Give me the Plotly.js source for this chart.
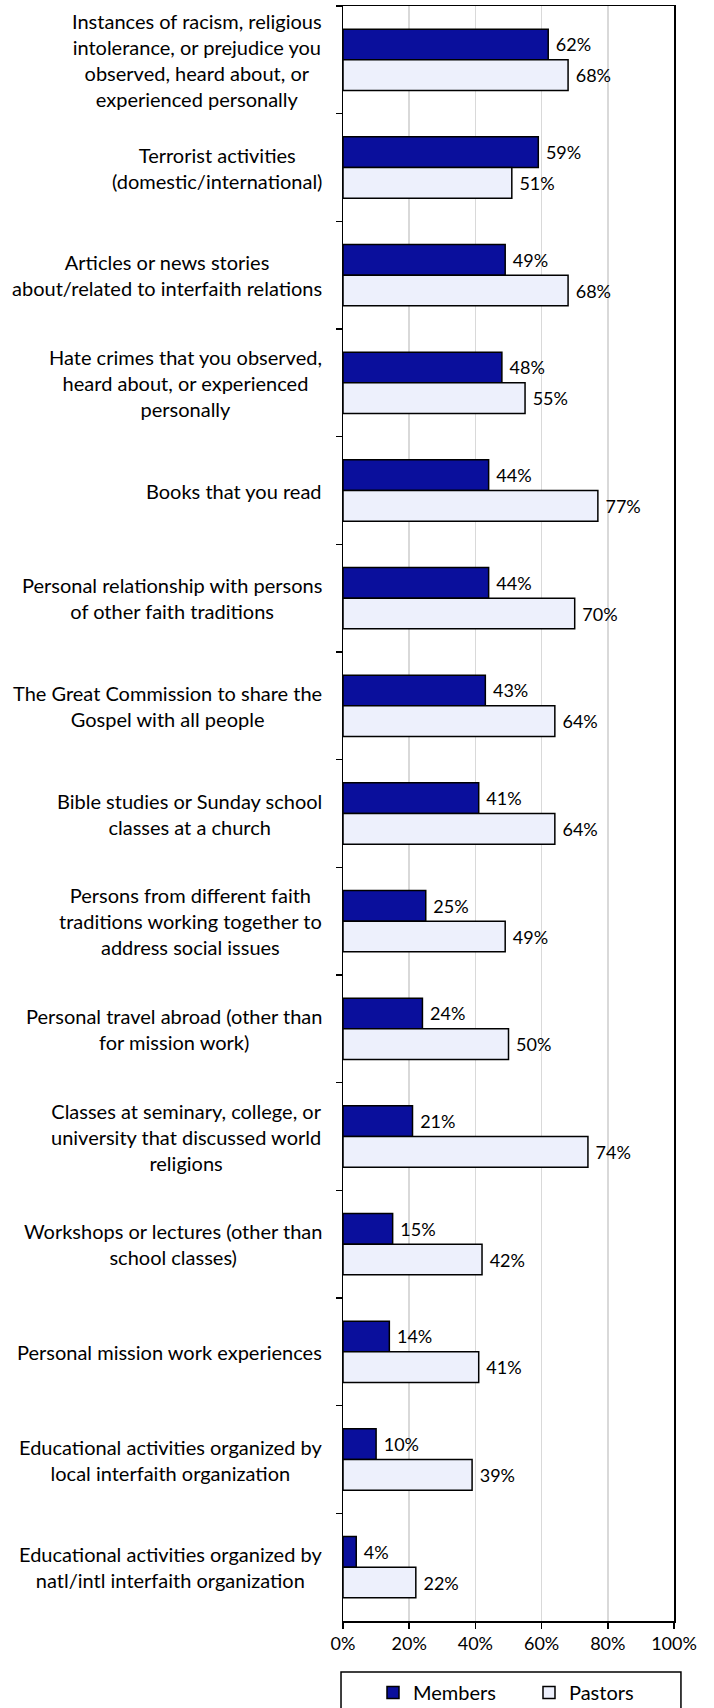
<!DOCTYPE html>
<html>
<head>
<meta charset="utf-8">
<script src="https://cdn.plot.ly/plotly-3.0.1.min.js"></script>
<style>html,body{margin:0;padding:0;background:#fff;}#chart{width:714px;height:1708px;}</style>
</head>
<body>
<div id="chart"></div>
<script>
const categories = [
  "Instances of racism, religious<br>intolerance, or prejudice you<br>observed, heard about, or<br>experienced personally",
  "Terrorist activities<br>(domestic/international)",
  "Articles or news stories<br>about/related to interfaith relations",
  "Hate crimes that you observed,<br>heard about, or experienced<br>personally",
  "Books that you read",
  "Personal relationship with persons<br>of other faith traditions",
  "The Great Commission to share the<br>Gospel with all people",
  "Bible studies or Sunday school<br>classes at a church",
  "Persons from different faith<br>traditions working together to<br>address social issues",
  "Personal travel abroad (other than<br>for mission work)",
  "Classes at seminary, college, or<br>university that discussed world<br>religions",
  "Workshops or lectures (other than<br>school classes)",
  "Personal mission work experiences",
  "Educational activities organized by<br>local interfaith organization",
  "Educational activities organized by<br>natl/intl interfaith organization"
];
const members = [62, 59, 49, 48, 44, 44, 43, 41, 25, 24, 21, 15, 14, 10, 4];
const pastors = [68, 51, 68, 55, 77, 70, 64, 64, 49, 50, 74, 42, 41, 39, 22];
const xTickVals = [0, 20, 40, 60, 80, 100];
const xTickText = ["0%", "20%", "40%", "60%", "80%", "100%"];
const seriesNames = ["Members", "Pastors"];

const FONT = "Lato, 'Open Sans', sans-serif";
const common = {
  type: "bar", orientation: "h", y: categories,
  texttemplate: "\u00a0%{x}%", textposition: "outside", constraintext: "none",
  cliponaxis: false,
  textfont: {family: FONT, size: 18, color: "#000"},
  hoverinfo: "skip"
};
const traces = [
  Object.assign({}, common, {x: members, name: seriesNames[0],
    marker: {color: "#0A0F9C", line: {color: "#000", width: 1.5}}}),
  Object.assign({}, common, {x: pastors, name: seriesNames[1],
    marker: {color: "#EDF0FC", line: {color: "#000", width: 1.5}}})
];

const annotations = categories.map(c => ({
  xref: "paper", yref: "y", x: 0, y: c, text: c,
  xanchor: "right", yanchor: "middle", align: "center", xshift: -19,
  showarrow: false, font: {family: FONT, size: 20, color: "#000"}
}));

const layout = {
  width: 714, height: 1708,
  margin: {l: 343, r: 40, t: 6, b: 87, autoexpand: false},
  paper_bgcolor: "#fff", plot_bgcolor: "#fff",
  barmode: "group", bargap: 0.43, bargroupgap: 0,
  font: {family: FONT, size: 18, color: "#000"},
  showlegend: true,
  legend: {orientation: "h", xref: "container", yref: "container",
    x: 0.5224, xanchor: "left", y: 0.0205, yanchor: "top",
    font: {family: FONT, size: 20, color: "#000"}, entrywidth: 111, traceorder: "normal",
    bgcolor: "rgba(0,0,0,0)"},
  xaxis: {range: [0, 100], tickvals: xTickVals, ticktext: xTickText,
    showgrid: true, gridcolor: "#D9D9D9", gridwidth: 1.5,
    showline: true, linecolor: "#000", linewidth: 1.5, mirror: true,
    ticks: "outside", ticklen: 6, tickcolor: "#000", tickwidth: 1.5,
    zeroline: false, fixedrange: true,
    tickfont: {family: FONT, size: 18, color: "#000"}},
  yaxis: {type: "category", autorange: "reversed", showticklabels: false,
    showline: true, linecolor: "#000", linewidth: 1.5, mirror: true,
    ticks: "outside", ticklen: 6, tickcolor: "#000", tickwidth: 1.5, tickson: "boundaries",
    showgrid: false, zeroline: false, fixedrange: true},
  annotations: annotations,
  shapes: [{type: "rect", xref: "paper", yref: "paper",
    x0: -0.006, x1: 1.021, y0: -0.0316, y1: -0.07,
    line: {color: "#000", width: 1.5}, fillcolor: "rgba(0,0,0,0)"}]
};
Plotly.newPlot("chart", traces, layout, {displayModeBar: false, staticPlot: true});
</script>
</body>
</html>
